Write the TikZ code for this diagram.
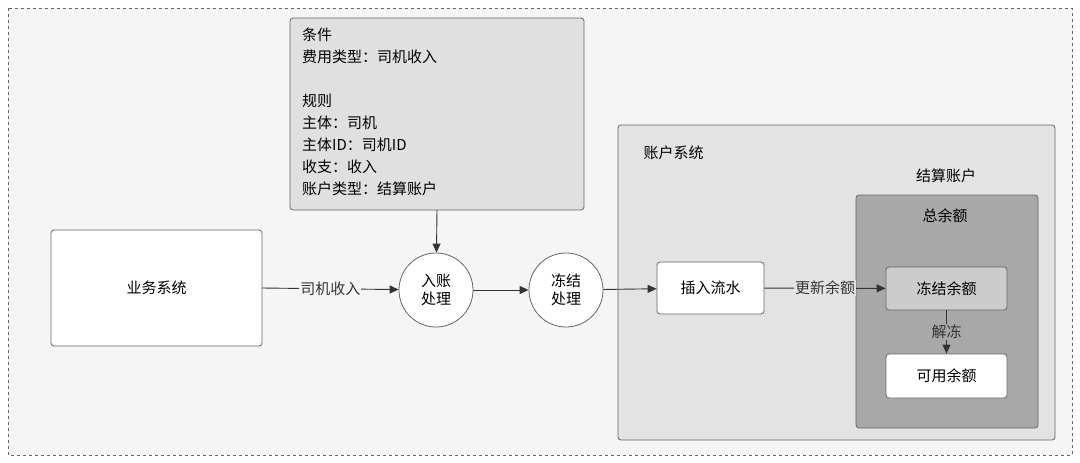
\documentclass[tikz,border=0pt]{standalone}
\usepackage{fontspec}
\setmainfont{Noto Sans CJK SC}
\usetikzlibrary{arrows.meta}
\begin{document}
\begin{tikzpicture}[x=1pt,y=-1pt,font=\fontsize{15}{18}\selectfont,
  box/.style={draw=black!60,rounded corners=3pt,line width=0.8pt},
  circ/.style={draw=black!60,circle,fill=white,line width=0.8pt,minimum size=74pt,inner sep=0pt,align=center},
  arr/.style={-{Triangle[length=9pt,width=8pt]},black!80,line width=0.9pt},
  lab/.style={fill=#1,inner sep=1pt}]
\useasboundingbox (0,0) rectangle (1080,463);
\fill[white] (0,0) rectangle (1080,463);
\draw[box,dashed,fill=black!4,rounded corners=0pt] (8,8) rectangle (1072,455);
\draw[box,fill=black!12] (290,18) rectangle (584,210);
\node (cond) at (437,114) {};
\coordinate (condb) at (437,210);
\node[anchor=north west,align=left,inner sep=0pt,font=\fontsize{15}{22}\selectfont] at (302,28) {条件\\费用类型：司机收入\\[22pt]规则\\主体：司机\\主体ID：司机ID\\收支：收入\\账户类型：结算账户};
\draw[box,fill=white] (51,230) rectangle (262,346);
\node (biz) at (156.5,288) {业务系统};
\coordinate (bizr) at (262,288);
\node[circ] (ru) at (436,290) {入账\\处理};
\node[circ] (dj) at (566,290) {冻结\\处理};
\draw[box,fill=black!11] (618,125) rectangle (1055,440);
\node[anchor=west] at (640,153) {账户系统};
\node at (946,176) {结算账户};
\draw[box,fill=black!34] (856,195) rectangle (1038,428);
\node at (945,216) {总余额};
\node[box,fill=white,minimum width=107pt,minimum height=52pt] (cr) at (710.5,288) {插入流水};
\node[box,fill=black!20,minimum width=121pt,minimum height=43pt] (djye) at (946.5,288.5) {冻结余额};
\node[box,fill=white,minimum width=121pt,minimum height=44pt] (ky) at (946.5,376) {可用余额};
\draw[arr] (bizr) -- node[lab=black!4]{司机收入} (ru);
\draw[arr] (condb) -- (ru);
\draw[arr] (ru) -- (dj);
\draw[arr] (dj) -- (cr);
\draw[arr] (cr) -- node[lab=black!11]{更新余额} (djye);
\draw[arr] (djye) -- node[lab=black!34]{解冻} (ky);
\end{tikzpicture}
\end{document}
